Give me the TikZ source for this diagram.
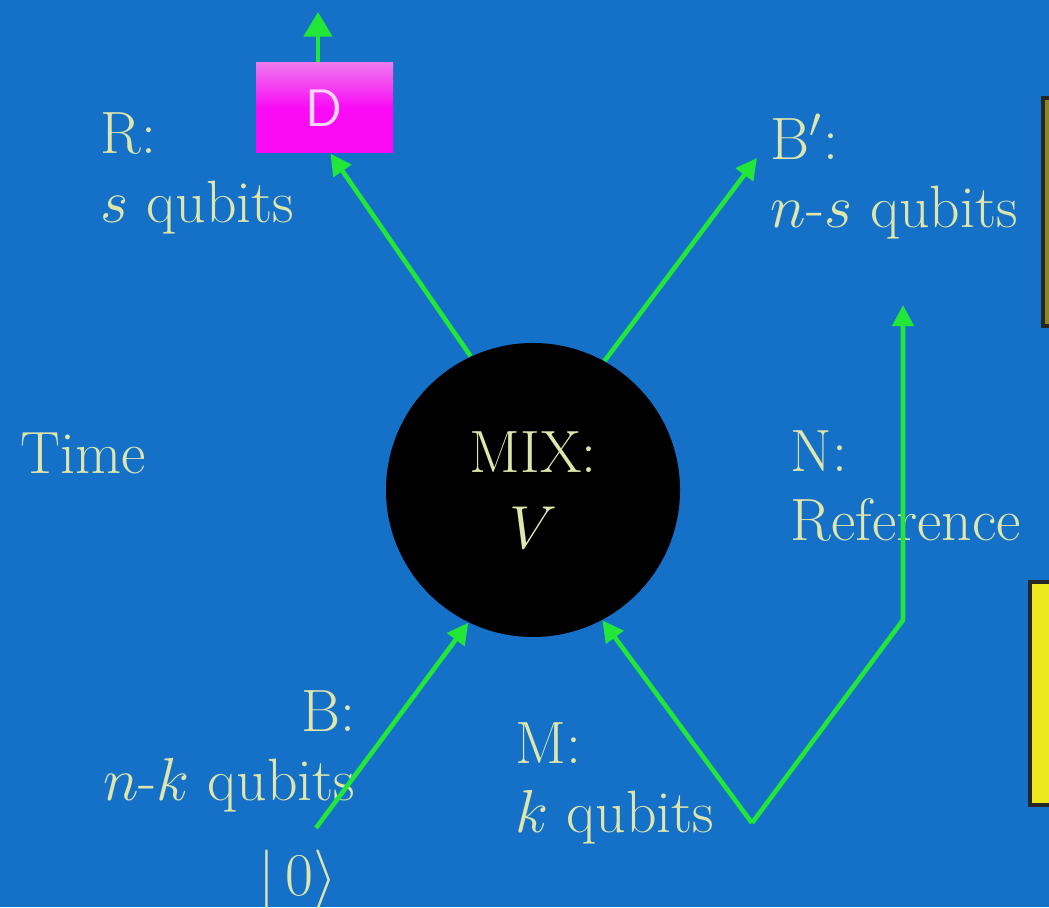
\documentclass[tikz,border=0pt]{standalone}
\usepackage{tikz}
\usetikzlibrary{shapes.geometric, arrows.meta, positioning}

\definecolor{slideblue}{RGB}{21,113,200}
\definecolor{wiregreen}{RGB}{34,230,56}
\definecolor{paletext}{RGB}{222,230,172}
\definecolor{boxmagenta}{RGB}{250,10,245}
\definecolor{boxpink}{RGB}{238,120,238}
\definecolor{boxyellow}{RGB}{236,234,30}
\definecolor{boxolive}{RGB}{140,134,36}

\begin{document}
\begin{tikzpicture}[
        label/.style={inner sep=0pt, text=paletext, font=\fontsize{17}{19.5}\selectfont},
        mixer/.style={circle, fill=black, minimum size=2.94cm, inner sep=0pt, text=paletext, align=center, font=\fontsize{17}{19.5}\selectfont},
        decoder/.style={rectangle, minimum width=1.37cm, minimum height=0.9cm, top color=boxpink, bottom color=boxmagenta, middle color=boxmagenta, text=boxpink!30, font=\fontsize{15}{17}\sffamily},
        sidebox/.style={rectangle, draw=black!85, line width=1pt},
        arrow/.style={wiregreen, line width=1.3pt, -{Triangle[length=6pt, width=6pt]}},
        wire/.style={wiregreen, line width=1.3pt, line join=round}
    ]
        % Frame
        \useasboundingbox (0,0) rectangle (10.49,9.07);
        \clip (0,0) rectangle (10.49,9.07);
        \fill[slideblue] (0,0) rectangle (10.49,9.07);
        \node (sideA) [sidebox, fill=boxolive, minimum width=0.6cm, minimum height=2.28cm] at (10.73,6.95) {};
        \node (sideB) [sidebox, fill=boxyellow, minimum width=0.6cm, minimum height=2.23cm] at (10.60,2.135) {};

        % Nodes
        \node (mix) [mixer] at (5.33,4.17) {MIX:\\[2pt]$V$};
        \node (dec) [decoder] at (3.245,7.99) {D};

        \node (rlbl) [label, anchor=north west, align=left] at (1.00,7.95) {R:\\$s$ qubits};
        \node (bplbl) [label, anchor=north west, align=left] at (7.70,7.94) {B$'$:\\$n$-$s$ qubits};
        \node (timelbl) [label, anchor=north west] at (0.20,4.75) {Time};
        \node (nlbl) [label, anchor=north west, align=left] at (7.90,4.77) {N:\\Reference};
        \node (blbl) [label, anchor=north east, align=right] at (3.56,2.17) {B:\\$n$-$k$ qubits};
        \node (mlbl) [label, anchor=north west, align=left] at (5.15,1.85) {M:\\$k$ qubits};
        \node (ket) [label] at (2.98,0.27) {$|\,0\rangle$};

        \coordinate (dout) at (3.18,8.95);
        \coordinate (bpout) at (7.57,7.49);
        \coordinate (bin) at (3.16,0.79);
        \coordinate (pair) at (7.52,0.84);
        \coordinate (bend) at (9.03,2.87);
        \coordinate (nout) at (9.03,6.02);

        % Arrows
        \draw [arrow] (mix.115) -- ([xshift=0.06cm]dec.south);
        \draw [arrow, -{Triangle[length=7pt, width=8pt]}] ([xshift=-0.065cm]dec.north) -- (dout);
        \draw [arrow] (mix.61) -- (bpout);
        \draw [arrow] (bin) -- (mix.244);
        \draw [arrow] (pair) -- (mix.298);
        \draw [wire, arrow] (pair) -- (bend) -- (nout);
    \end{tikzpicture}
\end{document}
